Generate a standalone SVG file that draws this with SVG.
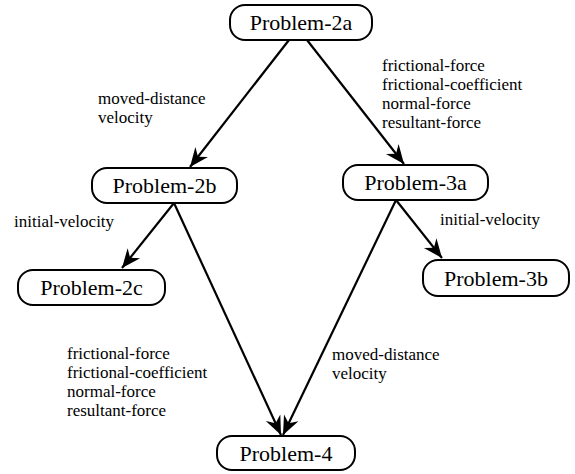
<svg xmlns="http://www.w3.org/2000/svg" width="575" height="474" viewBox="0 0 575 474">
<defs>
<marker id="ah" markerUnits="userSpaceOnUse" markerWidth="24" markerHeight="20" viewBox="-20 -10 24 20" refX="0" refY="0" orient="auto">
<path d="M0,0 L-19,-8 L-13,0 L-19,8 Z" fill="#000"/>
</marker>
</defs>
<rect width="575" height="474" fill="#fff"/>
<g id="connectors" stroke="#000" stroke-width="2.2" fill="none">
<line marker-end="url(#ah)" x1="289" y1="40" x2="190" y2="167"/>
<line marker-end="url(#ah)" x1="307" y1="40" x2="404" y2="164"/>
<line marker-end="url(#ah)" x1="174" y1="203" x2="122" y2="268"/>
<line marker-end="url(#ah)" x1="174" y1="203" x2="281" y2="435"/>
<line marker-end="url(#ah)" x1="396" y1="200" x2="283" y2="435"/>
<line marker-end="url(#ah)" x1="396" y1="200" x2="442" y2="258"/>
</g>
<g id="labels">
<text font-family="'Times New Roman'" font-size="17" x="98" y="104">moved-distance</text>
<text font-family="'Times New Roman'" font-size="17" x="98" y="123">velocity</text>
<text font-family="'Times New Roman'" font-size="17" x="382" y="71">frictional-force</text>
<text font-family="'Times New Roman'" font-size="17" x="382" y="90">frictional-coefficient</text>
<text font-family="'Times New Roman'" font-size="17" x="382" y="109">normal-force</text>
<text font-family="'Times New Roman'" font-size="17" x="382" y="128">resultant-force</text>
<text font-family="'Times New Roman'" font-size="17" x="14" y="227">initial-velocity</text>
<text font-family="'Times New Roman'" font-size="17" x="440" y="225">initial-velocity</text>
<text font-family="'Times New Roman'" font-size="17" x="67" y="359">frictional-force</text>
<text font-family="'Times New Roman'" font-size="17" x="67" y="378">frictional-coefficient</text>
<text font-family="'Times New Roman'" font-size="17" x="67" y="397">normal-force</text>
<text font-family="'Times New Roman'" font-size="17" x="67" y="416">resultant-force</text>
<text font-family="'Times New Roman'" font-size="17" x="332" y="360">moved-distance</text>
<text font-family="'Times New Roman'" font-size="17" x="332" y="379">velocity</text>
</g>
<g id="Problem-2a">
<rect fill="#fff" stroke="#000" stroke-width="2" x="230" y="5" width="142" height="35" rx="15"/>
<text font-family="serif" font-size="22" text-anchor="middle" x="301" y="30">Problem-2a</text>
</g>
<g id="Problem-2b">
<rect fill="#fff" stroke="#000" stroke-width="2" x="92" y="168" width="145" height="35" rx="15"/>
<text font-family="serif" font-size="22" text-anchor="middle" x="164.5" y="193">Problem-2b</text>
</g>
<g id="Problem-3a">
<rect fill="#fff" stroke="#000" stroke-width="2" x="343" y="165" width="145" height="35" rx="15"/>
<text font-family="serif" font-size="22" text-anchor="middle" x="415.5" y="190">Problem-3a</text>
</g>
<g id="Problem-2c">
<rect fill="#fff" stroke="#000" stroke-width="2" x="18" y="270" width="147" height="35" rx="15"/>
<text font-family="serif" font-size="22" text-anchor="middle" x="91.5" y="295">Problem-2c</text>
</g>
<g id="Problem-3b">
<rect fill="#fff" stroke="#000" stroke-width="2" x="423" y="260" width="146" height="36" rx="15"/>
<text font-family="serif" font-size="22" text-anchor="middle" x="496" y="286">Problem-3b</text>
</g>
<g id="Problem-4">
<rect fill="#fff" stroke="#000" stroke-width="2" x="217" y="436" width="138" height="34" rx="15"/>
<text font-family="serif" font-size="22" text-anchor="middle" x="286" y="461">Problem-4</text>
</g>
</svg>
